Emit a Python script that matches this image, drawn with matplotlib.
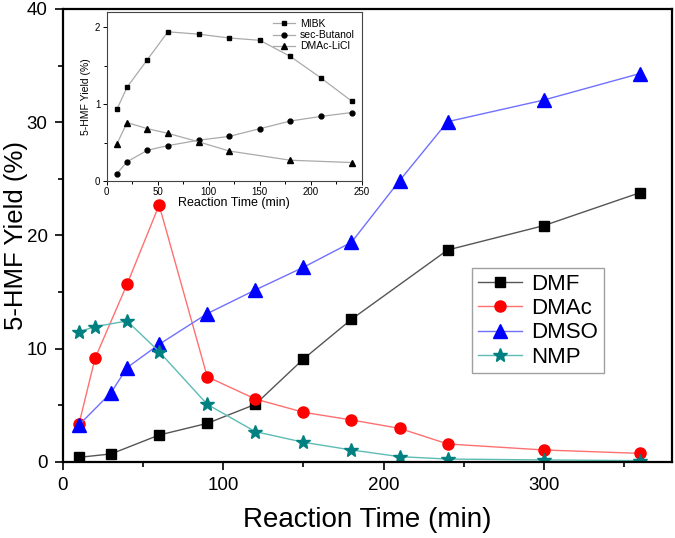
import matplotlib
matplotlib.use("Agg")
import matplotlib.pyplot as plt
from matplotlib.ticker import MultipleLocator

plt.rcParams['font.family'] = ['Liberation Sans', 'DejaVu Sans']

# main chart data
t_dmf = [10, 30, 60, 90, 120, 150, 180, 240, 300, 360]
y_dmf = [0.41, 0.71, 2.38, 3.41, 5.09, 9.09, 12.6, 18.72, 20.87, 23.78]

t_dmac = [10, 20, 40, 60, 90, 120, 150, 180, 210, 240, 300, 360]
y_dmac = [3.36, 9.15, 15.7, 22.69, 7.53, 5.56, 4.39, 3.71, 2.97, 1.59, 1.06, 0.76]

t_dmso = [10, 30, 40, 60, 90, 120, 150, 180, 210, 240, 300, 360]
y_dmso = [3.27, 6.12, 8.33, 10.39, 13.1, 15.19, 17.19, 19.4, 24.84, 30.05, 31.96, 34.3]

t_nmp = [10, 20, 40, 60, 90, 120, 150, 180, 210, 240, 300, 360]
y_nmp = [11.5, 11.95, 12.45, 9.74, 5.09, 2.68, 1.74, 1.06, 0.47, 0.26, 0.18, 0.12]

# inset data
t_in = [10, 20, 40, 60, 90, 120, 150, 180, 210, 240]
y_mibk = [0.93, 1.22, 1.58, 1.94, 1.91, 1.86, 1.83, 1.62, 1.34, 1.04]
y_sbut = [0.095, 0.25, 0.40, 0.46, 0.53, 0.58, 0.68, 0.78, 0.84, 0.89]
t_licl = [10, 20, 40, 60, 90, 120, 180, 240]
y_licl = [0.48, 0.76, 0.68, 0.62, 0.51, 0.39, 0.27, 0.24]

fig = plt.figure(figsize=(6.75, 5.38), dpi=100)
ax = fig.add_axes([0.0933, 0.1413, 0.9023, 0.842])

ax.plot(t_dmf, y_dmf, color='#555555', lw=1, marker='s', ms=7,
        mfc='black', mec='black', label='DMF')
ax.plot(t_dmac, y_dmac, color='#ff7070', lw=1, marker='o', ms=8,
        mfc='red', mec='red', label='DMAc')
ax.plot(t_dmso, y_dmso, color='#7070ff', lw=1, marker='^', ms=9.5,
        mfc='blue', mec='blue', label='DMSO')
ax.plot(t_nmp, y_nmp, color='#5cbcb4', lw=1, marker='*', ms=10,
        mfc='#008080', mec='#008080', label='NMP')

ax.set_xlim(0, 380)
ax.set_ylim(0, 40)
ax.xaxis.set_major_locator(MultipleLocator(100))
ax.xaxis.set_minor_locator(MultipleLocator(50))
ax.yaxis.set_major_locator(MultipleLocator(10))
ax.yaxis.set_minor_locator(MultipleLocator(5))
ax.tick_params(which='major', direction='out', length=6, width=1.2,
               labelsize=13.5, pad=5)
ax.tick_params(which='minor', direction='out', length=3.5, width=1.2)
for s in ax.spines.values():
    s.set_linewidth(1.6)
ax.set_xlabel('Reaction Time (min)', fontsize=20, labelpad=9)
ax.set_ylabel('5-HMF Yield (%)', fontsize=18.5)
ax.yaxis.set_label_coords(-0.058, 0.5)

leg = ax.legend(loc='upper left', bbox_to_anchor=(0.672, 0.428), fontsize=16,
                fancybox=False, edgecolor='#888888', handlelength=2.0,
                borderpad=0.25, labelspacing=0.15, handletextpad=0.4,
                borderaxespad=0)
leg.get_frame().set_linewidth(1)

# inset
ins = fig.add_axes([0.158, 0.6636, 0.378, 0.3144])
ins.plot(t_in, y_mibk, color='#aaaaaa', lw=0.9, marker='s', ms=3.5,
         mfc='black', mec='black', label='MIBK')
ins.plot(t_in, y_sbut, color='#aaaaaa', lw=0.9, marker='o', ms=3.5,
         mfc='black', mec='black', label='sec-Butanol')
ins.plot(t_licl, y_licl, color='#aaaaaa', lw=0.9, marker='^', ms=4,
         mfc='black', mec='black', label='DMAc-LiCl')
ins.set_xlim(0, 250)
ins.set_ylim(0, 2.2)
ins.xaxis.set_major_locator(MultipleLocator(50))
ins.xaxis.set_minor_locator(MultipleLocator(25))
ins.yaxis.set_major_locator(MultipleLocator(1))
ins.yaxis.set_minor_locator(MultipleLocator(0.5))
ins.tick_params(which='major', direction='out', length=3, width=0.7, labelsize=7, pad=1.5)
ins.tick_params(which='minor', direction='out', length=2, width=0.7)
for s in ins.spines.values():
    s.set_linewidth(0.8)
    s.set_color('#444444')
ins.set_xlabel('Reaction Time (min)', fontsize=9, labelpad=0)
ins.set_ylabel('5-HMF Yield (%)', fontsize=7.5, labelpad=3)
ins.legend(loc='upper right', frameon=False, fontsize=7.5, handlelength=2.2,
           borderpad=0.2, labelspacing=0.1, handletextpad=0.4)

fig.savefig('out.png', dpi=100)
